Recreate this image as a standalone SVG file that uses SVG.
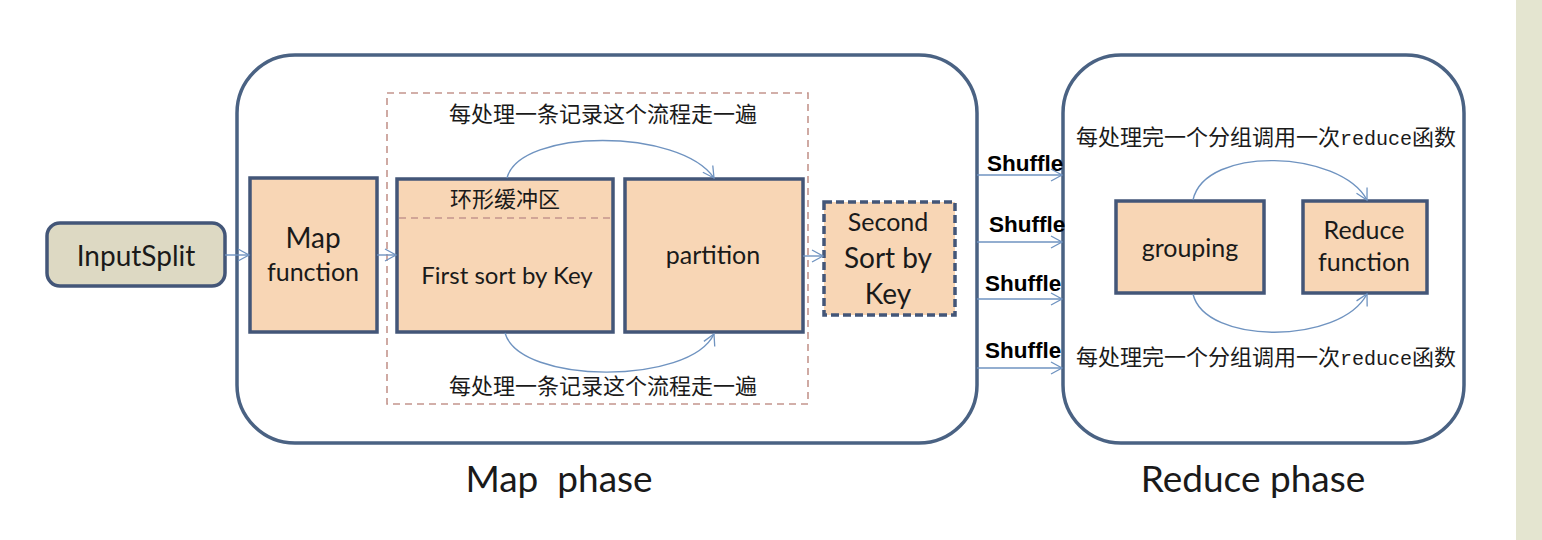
<svg xmlns="http://www.w3.org/2000/svg" width="1542" height="540" viewBox="0 0 1542 540">
<defs>
<marker id="arr" markerWidth="14" markerHeight="14" refX="12" refY="7" orient="auto" markerUnits="userSpaceOnUse">
<path d="M1,1 L12,7 L1,13" fill="none" stroke="#6f93c0" stroke-width="1.3"/>
</marker>
</defs>
<style>
.phase{fill:#fff;stroke:#4a6283;stroke-width:3.5}
.box{fill:#f8d6b5;stroke:#435678;stroke-width:3.5}
.t{font-family:"Lato","Open Sans",sans-serif;fill:#1a1a1a;text-anchor:middle}
.cn{font-family:"Noto Sans CJK SC","Noto Sans",sans-serif;fill:#1a1a1a;font-size:22px;text-anchor:middle}
.mono{font-family:"Liberation Mono",monospace;font-size:20px}
.sh{font-family:"Liberation Sans",Arial,sans-serif;font-weight:bold;font-size:22.5px;fill:#000}
.conn{fill:none;stroke:#6f93c0;stroke-width:1.4}
</style>
<rect x="1516" y="0" width="26" height="540" fill="#e4e5d0"/>
<g id="map-phase">
<rect class="phase" x="237" y="55" width="740" height="388" rx="58"/>
<text class="t" x="559" y="492" font-size="37" xml:space="preserve" style="white-space:pre">Map  phase</text>
</g>
<g id="reduce-phase">
<rect class="phase" x="1063" y="55" width="401" height="388" rx="58"/>
<text class="t" x="1253" y="492" font-size="37">Reduce phase</text>
</g>
<g id="loop-region">
<rect x="387" y="93" width="421" height="311" fill="none" stroke="#c4958d" stroke-width="1.6" stroke-dasharray="7,5"/>
<text class="cn" x="603" y="122">每处理一条记录这个流程走一遍</text>
<text class="cn" x="603" y="394">每处理一条记录这个流程走一遍</text>
</g>
<g id="inputsplit">
<rect x="47" y="223" width="178" height="63" rx="13" fill="#ddd9c3" stroke="#435678" stroke-width="3.5"/>
<text class="t" x="136" y="266" font-size="28">InputSplit</text>
</g>
<g id="map-function">
<rect class="box" x="250" y="178" width="127" height="154"/>
<text class="t" x="313" y="248" font-size="28">Map</text>
<text class="t" x="313" y="281" font-size="25">function</text>
</g>
<g id="first-sort">
<rect class="box" x="397" y="179" width="216" height="153"/>
<line x1="399" y1="218" x2="611" y2="218" stroke="#c4958d" stroke-width="1.6" stroke-dasharray="7,5"/>
<text class="cn" x="505" y="207">环形缓冲区</text>
<text class="t" x="507" y="284" font-size="24">First sort by Key</text>
</g>
<g id="partition">
<rect class="box" x="625" y="179" width="178" height="153"/>
<text class="t" x="713" y="264" font-size="25">partition</text>
</g>
<g id="second-sort">
<rect x="824" y="202" width="131" height="113" fill="#f8d6b5" stroke="#435678" stroke-width="3.5" stroke-dasharray="8,4"/>
<text class="t" x="888" y="231" font-size="25">Second</text>
<text class="t" x="888" y="268" font-size="28">Sort by</text>
<text class="t" x="888" y="304" font-size="28">Key</text>
</g>
<g id="grouping">
<rect class="box" x="1116" y="201" width="148" height="92"/>
<text class="t" x="1190" y="257" font-size="25">grouping</text>
</g>
<g id="reduce-function">
<rect class="box" x="1303" y="201" width="124" height="92"/>
<text class="t" x="1364" y="239" font-size="25">Reduce</text>
<text class="t" x="1364" y="271" font-size="25">function</text>
</g>
<g id="reduce-notes">
<text class="cn" x="1266" y="145">每处理完一个分组调用一次<tspan class="mono">reduce</tspan>函数</text>
<text class="cn" x="1266" y="365">每处理完一个分组调用一次<tspan class="mono">reduce</tspan>函数</text>
</g>
<g id="shuffle-labels">
<text class="sh" x="987" y="171">Shuffle</text>
<text class="sh" x="989" y="232">Shuffle</text>
<text class="sh" x="985" y="291">Shuffle</text>
<text class="sh" x="985" y="358">Shuffle</text>
</g>
<g id="connectors">
<line class="conn" x1="225" y1="255" x2="249" y2="255" marker-end="url(#arr)"/>
<line class="conn" x1="377" y1="255" x2="396" y2="255" marker-end="url(#arr)"/>
<line class="conn" x1="803" y1="256" x2="823" y2="256" marker-end="url(#arr)"/>
<path class="conn" d="M507,178 C520,128 680,128 714,178" marker-end="url(#arr)"/>
<path class="conn" d="M505,333 C520,385 690,385 714,334" marker-end="url(#arr)"/>
<path class="conn" d="M1193,200 C1205,145 1340,150 1367,200" marker-end="url(#arr)"/>
<path class="conn" d="M1193,294 C1205,345 1340,345 1367,294" marker-end="url(#arr)"/>
<line class="conn" x1="977" y1="175" x2="1062" y2="175" marker-end="url(#arr)"/>
<line class="conn" x1="977" y1="242" x2="1062" y2="242" marker-end="url(#arr)"/>
<line class="conn" x1="977" y1="299" x2="1062" y2="299" marker-end="url(#arr)"/>
<line class="conn" x1="977" y1="368" x2="1062" y2="368" marker-end="url(#arr)"/>
</g>
</svg>
